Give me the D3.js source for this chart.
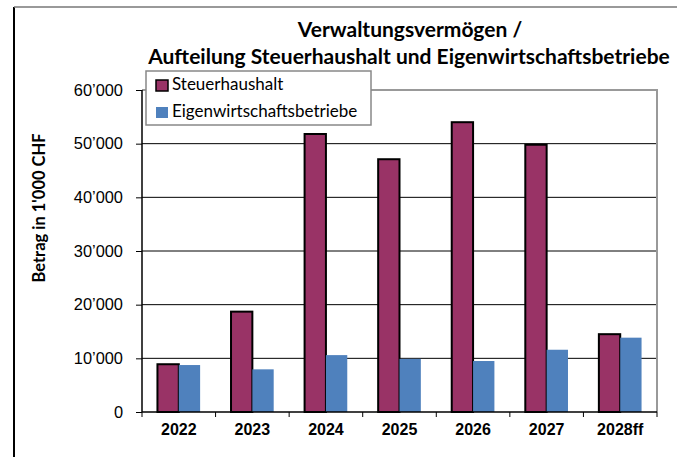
<!DOCTYPE html>
<html>
<head>
  <meta charset="utf-8">
  <script src="https://d3js.org/d3.v7.min.js"></script>
  <style>
  body { margin:0; background:#fff; }
  svg { display:block; font-family: Lato, "Open Sans", sans-serif; }
  .y.axis text, .x.axis text { fill:#000; }
  </style>
</head>
<body>
<script>
  var categories = ["2022", "2023", "2024", "2025", "2026", "2027", "2028ff"];
  var seriesNames = ["Steuerhaushalt", "Eigenwirtschaftsbetriebe"];
  var steuerhaushalt = [8900, 18700, 51800, 47100, 54000, 49800, 14500];
  var eigenwirtschaft = [8750, 7950, 10600, 9900, 9500, 11600, 13850];
  var yTicks = [0, 10000, 20000, 30000, 40000, 50000, 60000];
  var colors = ["#993366", "#4f81bd"];

  var margin = {top: 90, left: 142},
    width = 657 - margin.left,
    height = 412 - margin.top;

  var svg = d3.select("body").append("svg")
    .attr("width", 677)
    .attr("height", 457);

  // outer chart frame
  svg.append("line").attr("x1", 14).attr("x2", 14).attr("y1", 7).attr("y2", 457)
    .attr("stroke", "#000").attr("stroke-width", 2);
  svg.append("line").attr("x1", 14).attr("x2", 677).attr("y1", 7).attr("y2", 7)
    .attr("stroke", "#777").attr("stroke-width", 1.5);

  var g = svg.append("g")
    .attr("transform", "translate(" + margin.left + "," + margin.top + ")");

  var x0 = d3.scaleBand().domain(categories).range([0, width])
    .paddingInner(0.42).paddingOuter(0.21);
  var x1 = d3.scaleBand().domain(seriesNames).range([0, x0.bandwidth()]);
  var y = d3.scaleLinear().domain([0, 60000]).range([height, 0]);

  var fmt = function(d) { return d === 0 ? "0" : d3.format(",")(d).replace(",", "\u2019"); };

  // gridlines
  g.append("g").selectAll("line")
    .data(yTicks.filter(function(d) { return d > 0 && d < 60000; }))
    .enter().append("line")
    .attr("x1", 0).attr("x2", width)
    .attr("y1", function(d) { return y(d); }).attr("y2", function(d) { return y(d); })
    .attr("stroke", "#000").attr("stroke-width", 1);

  // plot frame top/right
  g.append("path")
    .attr("d", "M0," + y(60000) + "H" + width + "V" + height)
    .attr("fill", "none").attr("stroke", "#999").attr("stroke-width", 2);

  var rows = categories.map(function(c, i) {
    return [{cat: c, s: seriesNames[0], v: steuerhaushalt[i]},
            {cat: c, s: seriesNames[1], v: eigenwirtschaft[i]}];
  });

  g.append("g").selectAll("g")
    .data(rows).enter().append("g")
    .attr("transform", function(d) { return "translate(" + x0(d[0].cat) + ",0)"; })
    .selectAll("rect")
    .data(function(d) { return d; }).enter().append("rect")
    .attr("x", function(d) { return x1(d.s); })
    .attr("width", x1.bandwidth())
    .attr("y", function(d) { return y(d.v); })
    .attr("height", function(d) { return height - y(d.v); })
    .attr("fill", function(d) { return d.s === seriesNames[0] ? colors[0] : colors[1]; })
    .attr("stroke", function(d) { return d.s === seriesNames[0] ? "#000" : "none"; })
    .attr("stroke-width", 2);

  var yAxis = d3.axisLeft(y).tickValues(yTicks).tickSize(6).tickPadding(13).tickFormat(fmt);
  g.append("g").attr("class", "y axis").call(yAxis)
    .call(function(a) { a.select(".domain").attr("stroke", "#000").attr("stroke-width", 1.5).attr("d", "M0," + height + "V0"); })
    .selectAll("text").style("font-size", "16.4px");

  var xAxis = d3.axisBottom(x0).tickSize(0).tickPadding(12);
  var xa = g.append("g").attr("class", "x axis")
    .attr("transform", "translate(0," + height + ")").call(xAxis);
  xa.select(".domain").attr("stroke", "#000").attr("stroke-width", 1.5).attr("d", "M0,0H" + width);
  xa.selectAll("text").style("font-size", "16px").style("font-weight", "bold");
  // category boundary ticks
  xa.append("g").selectAll("line")
    .data(categories.concat(["end"])).enter().append("line")
    .attr("x1", function(d, i) { return i * x0.step(); })
    .attr("x2", function(d, i) { return i * x0.step(); })
    .attr("y1", 0).attr("y2", 5)
    .attr("stroke", "#000").attr("stroke-width", 1);

  // y label
  svg.append("text")
    .attr("transform", "translate(45,208) rotate(-90)")
    .attr("text-anchor", "middle")
    .style("font-size", "16.5px").style("font-weight", "bold")
    .text("Betrag in 1'000 CHF");

  // title
  var title = svg.append("text").attr("text-anchor", "middle")
    .style("font-size", "21px").style("font-weight", "bold");
  title.append("tspan").attr("x", 410).attr("y", 37).text("Verwaltungsvermögen /");
  title.append("tspan").attr("x", 409).attr("y", 64).text("Aufteilung Steuerhaushalt und Eigenwirtschaftsbetriebe");

  // legend
  var lg = svg.append("g").attr("transform", "translate(146,71)");
  lg.append("rect").attr("width", 225).attr("height", 54)
    .attr("fill", "#fff").attr("stroke", "#888").attr("stroke-width", 1.5);
  seriesNames.forEach(function(n, i) {
    lg.append("rect").attr("x", 10).attr("y", 9 + i * 27).attr("width", 12).attr("height", 11)
      .attr("fill", colors[i]).attr("stroke", i === 0 ? "#000" : "none").attr("stroke-width", 1.5);
    lg.append("text").attr("x", 26).attr("y", 19 + i * 27)
      .style("font-size", "17px").text(n);
  });
</script>
</body>
</html>
